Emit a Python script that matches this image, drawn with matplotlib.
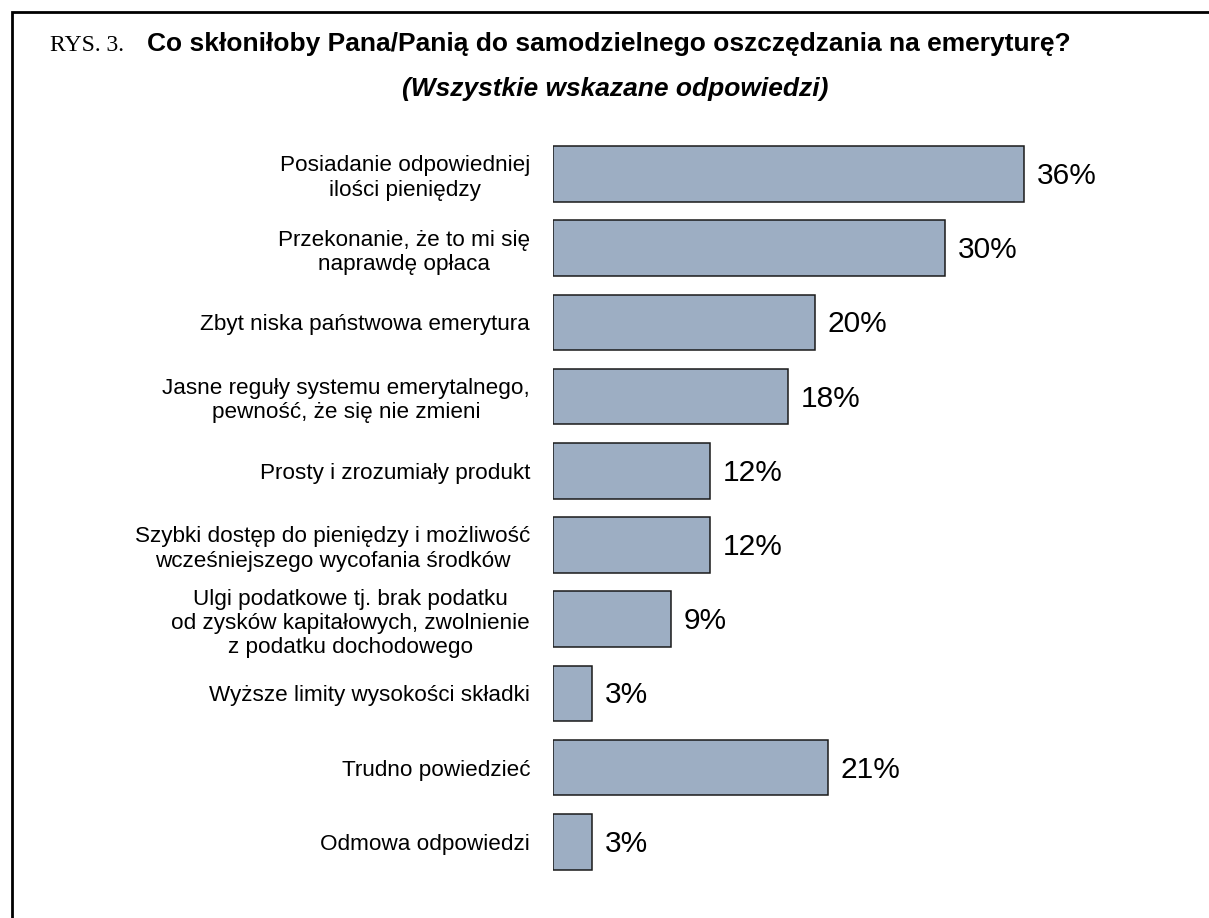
import matplotlib
matplotlib.use("Agg")
import matplotlib.pyplot as plt
from matplotlib.patches import Rectangle

categories = [
    "Posiadanie odpowiedniej\nilości pieniędzy",
    "Przekonanie, że to mi się\nnaprawdę opłaca",
    "Zbyt niska państwowa emerytura",
    "Jasne reguły systemu emerytalnego,\npewność, że się nie zmieni",
    "Prosty i zrozumiały produkt",
    "Szybki dostęp do pieniędzy i możliwość\nwcześniejszego wycofania środków",
    "Ulgi podatkowe tj. brak podatku\nod zysków kapitałowych, zwolnienie\nz podatku dochodowego",
    "Wyższe limity wysokości składki",
    "Trudno powiedzieć",
    "Odmowa odpowiedzi",
]
values = [36, 30, 20, 18, 12, 12, 9, 3, 21, 3]
value_labels = ["36%", "30%", "20%", "18%", "12%", "12%", "9%", "3%", "21%", "3%"]

W, H = 1209, 918
fig = plt.figure(figsize=(W / 100, H / 100), dpi=100)
fig.patch.set_facecolor("white")

# outer frame (clipped at right and bottom)
fig.add_artist(Rectangle((11.5 / W, -0.1), 1.2, (H - 12) / H + 0.1,
                         transform=fig.transFigure, fill=False,
                         edgecolor="black", linewidth=2.0))

pitch = 74.2
first_center = 174.0
ax_left, ax_right = 553, 553 + 50 * 13.08
ax_top = first_center - pitch / 2
ax_bottom = first_center + pitch * (len(values) - 0.5)
ax = fig.add_axes([ax_left / W, 1 - ax_bottom / H,
                   (ax_right - ax_left) / W, (ax_bottom - ax_top) / H])
ax.set_xlim(0, 50)
ax.set_ylim(len(values) - 0.5, -0.5)
ypos = list(range(len(values)))
ax.barh(ypos, values, height=0.75, color="#9DAEC3", edgecolor="#1a1a1a",
        linewidth=1.1)
for y, v, lab in zip(ypos, values, value_labels):
    ax.annotate(lab, (v, y), xytext=(9.0, -1.5), textcoords="offset points",
                ha="left", va="center", fontsize=21.5,
                family="Liberation Sans")
ax.set_yticks(ypos)
ax.set_yticklabels(categories, fontsize=16.2, family="Liberation Sans",
                   multialignment="center", linespacing=1.2)
ax.tick_params(axis="y", length=0, pad=16.5)
ax.set_xticks([])
for s in ax.spines.values():
    s.set_visible(False)

fig.text(50 / W, 1 - 51 / H, "RYS. 3.", fontsize=17, family="Liberation Serif",
         ha="left", va="baseline")
fig.text(147 / W, 1 - 51 / H,
         "Co skłoniłoby Pana/Panią do samodzielnego oszczędzania na emeryturę?",
         fontsize=19, fontweight="bold", family="Liberation Sans",
         ha="left", va="baseline")
fig.text(615.5 / W, 1 - 96 / H, "(Wszystkie wskazane odpowiedzi)",
         fontsize=19, fontweight="bold", style="italic",
         family="Liberation Sans", ha="center", va="baseline")

fig.savefig("out.png", dpi=100, facecolor="white")
